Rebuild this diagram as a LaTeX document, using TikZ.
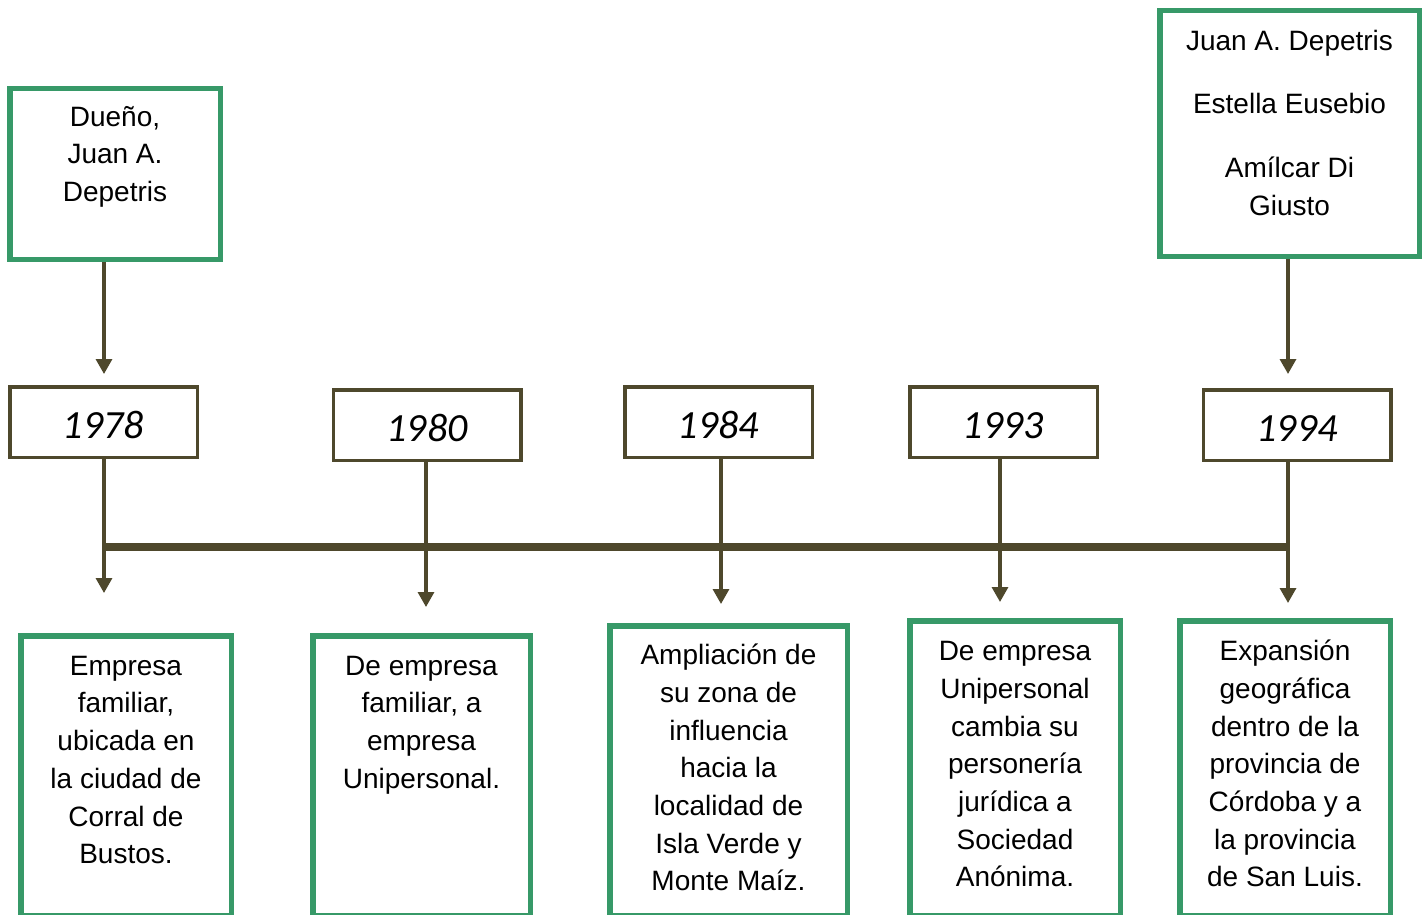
\documentclass[tikz,border=0pt]{standalone}
\usepackage{fontspec}
\setmainfont{Liberation Sans}
\newfontfamily\yearfont{Carlito}
\usetikzlibrary{arrows.meta}
\definecolor{boxgreen}{RGB}{55,153,104}
\definecolor{lineolive}{RGB}{78,72,44}
% invisible strut that fixes the height of a first text line
\newcommand\capstrut{\rule{0pt}{21pt}}
\begin{document}
\begin{tikzpicture}[x=1pt,y=-1pt,
  greenbox/.style={draw=boxgreen, line width=5.5pt, rectangle, inner sep=0pt, fill=white},
  yearbox/.style={draw=lineolive, line width=3.5pt, rectangle, inner sep=0pt, fill=white,
    minimum width=187.5pt, minimum height=70.5pt, text height=32pt, text depth=0pt,
    font=\yearfont\itshape\fontsize{40}{48}\selectfont},
  boxtext/.style={anchor=north, align=center, inner sep=0pt, font=\fontsize{28}{37.7}\selectfont},
  link/.style={draw=lineolive, line width=3.3pt, -{Triangle[width=16pt,length=15pt]}},
  timeline/.style={draw=lineolive, line width=8pt}]

\fill[white] (0,0) rectangle (1428,915);
\useasboundingbox (0,0) rectangle (1428,915);

% owners
\node[greenbox, minimum width=210.5pt, minimum height=170.5pt] (owner1) at (115,174) {};
\node[greenbox, minimum width=259.5pt, minimum height=245.5pt] (owner2) at (1289.5,133.5) {};
\node[boxtext] (owner1txt) at (115,105) {\capstrut Dueño,\\Juan A.\\Depetris};
\node[boxtext] (owner2txt) at (1289.5,29) {\capstrut Juan A. Depetris\\[26pt]Estella Eusebio\\[26pt]Amílcar Di\\Giusto};

% years
\node[yearbox] (y1) at (103.5,422) {1978};
\node[yearbox] (y2) at (427,425) {1980};
\node[yearbox] (y3) at (718.5,422) {1984};
\node[yearbox] (y4) at (1003.5,422) {1993};
\node[yearbox] (y5) at (1297,425) {1994};

% events
\node[greenbox, minimum width=210.5pt, minimum height=280.25pt] (ev1) at (126,775.9) {};
\node[greenbox, minimum width=217.5pt, minimum height=280.25pt] (ev2) at (421.5,775.9) {};
\node[greenbox, minimum width=237.5pt, minimum height=290.25pt] (ev3) at (728.5,770.9) {};
\node[greenbox, minimum width=210.5pt, minimum height=295.25pt] (ev4) at (1015,768.4) {};
\node[greenbox, minimum width=210.5pt, minimum height=295.25pt] (ev5) at (1285,768.4) {};

\node[boxtext] (ev1txt) at (126,654) {\capstrut Empresa\\familiar,\\ubicada en\\la ciudad de\\Corral de\\Bustos.};
\node[boxtext] (ev2txt) at (421.5,654) {\capstrut De empresa\\familiar, a\\empresa\\Unipersonal.};
\node[boxtext] (ev3txt) at (728.5,643.5) {\capstrut Ampliación de\\su zona de\\influencia\\hacia la\\localidad de\\Isla Verde y\\Monte Maíz.};
\node[boxtext] (ev4txt) at (1015,639.5) {\capstrut De empresa\\Unipersonal\\cambia su\\personería\\jurídica a\\Sociedad\\Anónima.};
\node[boxtext] (ev5txt) at (1285,639.5) {\capstrut Expansión\\geográfica\\dentro de la\\provincia de\\Córdoba y a\\la provincia\\de San Luis.};

% arrow tips
\coordinate (a1) at (104,374);
\coordinate (a5) at (1288,374);
\coordinate (t1) at (104,593);
\coordinate (t2) at (426,607);
\coordinate (t3) at (721,604);
\coordinate (t4) at (1000,602);
\coordinate (t5) at (1288,603);
\coordinate (tlstart) at (104,547);
\coordinate (tlend) at (1288,547);

\draw[link] (owner1.south -| a1) -- (a1);
\draw[link] (owner2.south -| a5) -- (a5);
\draw[link] (y1.south -| t1) -- (t1);
\draw[link] (y2.south -| t2) -- (t2);
\draw[link] (y3.south -| t3) -- (t3);
\draw[link] (y4.south -| t4) -- (t4);
\draw[link] (y5.south -| t5) -- (t5);

\draw[timeline] (tlstart) -- (tlend);
\end{tikzpicture}
\end{document}
